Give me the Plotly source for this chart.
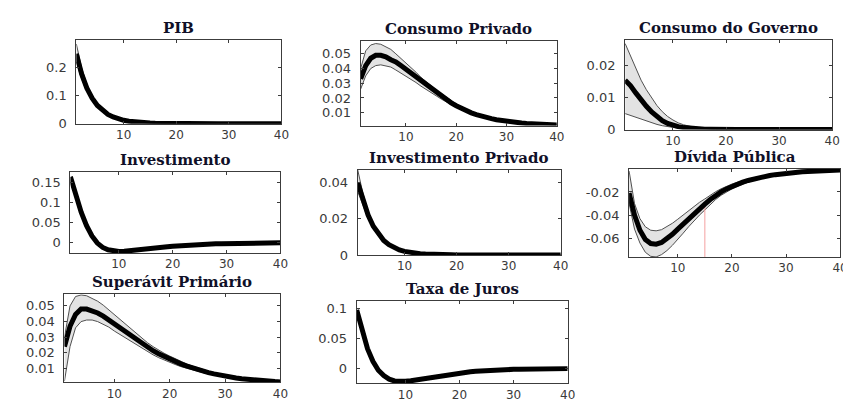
import plotly.graph_objects as go

# ---------------- data ----------------
periods = list(range(1, 41))
x_ticks = [10, 20, 30, 40]
x_ticktext = ["10", "20", "30", "40"]

titles = ["PIB", "Consumo Privado", "Consumo do Governo", "Investimento",
          "Investimento Privado", "Dívida Pública", "Superávit Primário", "Taxa de Juros"]

pib_mean = [0.250, 0.178, 0.127, 0.091, 0.065, 0.046, 0.033, 0.024, 0.017, 0.012, 0.0085, 0.006, 0.0043, 0.0031,
            0.0022, 0.0016, 0.0011, 0.0008, 0.0006, 0.0004, 0.0003, 0.0002, 0.00015, 0.0001, 0.0001, 0.0001, 0.0001,
            0, 0, 0, 0, 0, 0, 0, 0, 0, 0, 0, 0, 0]
pib_upper = [0.285, 0.200, 0.140, 0.098, 0.069, 0.049, 0.035, 0.025, 0.018, 0.013, 0.0092, 0.0065, 0.0047, 0.0034,
             0.0024, 0.0017, 0.0012, 0.0009, 0.0006, 0.0004, 0.0003, 0.0002, 0.00015, 0.0001, 0.0001, 0.0001, 0.0001,
             0, 0, 0, 0, 0, 0, 0, 0, 0, 0, 0, 0, 0]
pib_lower = [0.220, 0.160, 0.116, 0.084, 0.061, 0.043, 0.031, 0.022, 0.016, 0.011, 0.0078, 0.0055, 0.0039, 0.0028,
             0.002, 0.0014, 0.001, 0.0007, 0.0005, 0.0004, 0.0003, 0.0002, 0.00015, 0.0001, 0.0001, 0.0001, 0.0001,
             0, 0, 0, 0, 0, 0, 0, 0, 0, 0, 0, 0, 0]

cp_mean = [0.033, 0.042, 0.047, 0.049, 0.049, 0.048, 0.046, 0.0445, 0.042, 0.0395, 0.037, 0.034, 0.031, 0.0285,
           0.026, 0.0235, 0.021, 0.019, 0.0167, 0.0147, 0.0129, 0.0113, 0.0099, 0.0087, 0.0076, 0.0067, 0.0059,
           0.0052, 0.0046, 0.0041, 0.0036, 0.0032, 0.0029, 0.0026, 0.0024, 0.0022, 0.002, 0.0018, 0.0017, 0.0016]
cp_upper = [0.040, 0.052, 0.056, 0.057, 0.0565, 0.055, 0.053, 0.050, 0.047, 0.044, 0.041, 0.0375, 0.034, 0.031,
            0.028, 0.0255, 0.023, 0.0205, 0.018, 0.016, 0.014, 0.0123, 0.0108, 0.0095, 0.0083, 0.0073, 0.0064,
            0.0056, 0.0049, 0.0044, 0.0039, 0.0034, 0.0031, 0.0028, 0.0025, 0.0023, 0.0021, 0.0019, 0.0018, 0.0017]
cp_lower = [0.026, 0.035, 0.040, 0.042, 0.0425, 0.042, 0.041, 0.039, 0.037, 0.035, 0.033, 0.0305, 0.028, 0.026,
            0.0237, 0.0215, 0.0193, 0.0173, 0.0154, 0.0136, 0.012, 0.0105, 0.0092, 0.0081, 0.0071, 0.0062, 0.0054,
            0.0048, 0.0043, 0.0038, 0.0034, 0.003, 0.0027, 0.0024, 0.0022, 0.002, 0.0018, 0.0017, 0.0016, 0.0015]

cg_mean = [0.0155, 0.0138, 0.0115, 0.0092, 0.0073, 0.0055, 0.004, 0.0028, 0.0019, 0.0013, 0.0009, 0.0006, 0.0004,
           0.0003, 0.0002, 0.0001, 0.0001, 0, 0, 0, 0, 0, 0, 0, 0, 0, 0, 0, 0, 0, 0, 0, 0, 0, 0, 0, 0, 0, 0, 0]
cg_upper = [0.027, 0.023, 0.019, 0.0155, 0.0125, 0.0098, 0.0075, 0.0056, 0.0041, 0.003, 0.0021, 0.0015, 0.001,
            0.0007, 0.0005, 0.0003, 0.0002, 0.0001, 0.0001, 0, 0, 0, 0, 0, 0, 0, 0, 0, 0, 0, 0, 0, 0, 0, 0, 0, 0,
            0, 0, 0]
cg_lower = [0.005, 0.0044, 0.0038, 0.0032, 0.0026, 0.0021, 0.0016, 0.0012, 0.0009, 0.0006, 0.0004, 0.0003, 0.0002,
            0.0001, 0.0001, 0, 0, 0, 0, 0, 0, 0, 0, 0, 0, 0, 0, 0, 0, 0, 0, 0, 0, 0, 0, 0, 0, 0, 0, 0]

inv_mean = [0.165, 0.118, 0.076, 0.042, 0.016, -0.002, -0.013, -0.019, -0.022, -0.023, -0.0225, -0.0215, -0.02,
            -0.0185, -0.017, -0.0155, -0.014, -0.0126, -0.0113, -0.0101, -0.009, -0.008, -0.0071, -0.0063, -0.0056,
            -0.005, -0.0044, -0.0039, -0.0035, -0.0031, -0.0028, -0.0025, -0.0022, -0.002, -0.0018, -0.0016,
            -0.0014, -0.0013, -0.0012, -0.0011]

ip_mean = [0.040, 0.030, 0.022, 0.0158, 0.0113, 0.008, 0.0057, 0.004, 0.0028, 0.002, 0.0014, 0.001, 0.0007, 0.0005,
           0.0003, 0.0002, 0.0002, 0.0001, 0.0001, 0, 0, 0, 0, 0, 0, 0, 0, 0, 0, 0, 0, 0, 0, 0, 0, 0, 0, 0, 0, 0]
ip_upper = [0.047, 0.034, 0.024, 0.017, 0.012, 0.0085, 0.006, 0.0042, 0.003, 0.0021, 0.0015, 0.001, 0.0007, 0.0005,
            0.0003, 0.0002, 0.0002, 0.0001, 0.0001, 0, 0, 0, 0, 0, 0, 0, 0, 0, 0, 0, 0, 0, 0, 0, 0, 0, 0, 0, 0, 0]
ip_lower = [0.035, 0.027, 0.020, 0.0146, 0.0105, 0.0075, 0.0053, 0.0037, 0.0026, 0.0019, 0.0013, 0.0009, 0.0006,
            0.0004, 0.0003, 0.0002, 0.0001, 0.0001, 0, 0, 0, 0, 0, 0, 0, 0, 0, 0, 0, 0, 0, 0, 0, 0, 0, 0, 0, 0, 0, 0]

dp_mean = [-0.021, -0.040, -0.053, -0.061, -0.0645, -0.065, -0.0635, -0.0605, -0.0565, -0.052, -0.0475, -0.043,
           -0.0385, -0.0345, -0.0305, -0.0265, -0.023, -0.020, -0.0174, -0.0152, -0.0133, -0.0116, -0.0101, -0.0088,
           -0.0077, -0.0067, -0.0058, -0.0051, -0.0044, -0.0039, -0.0034, -0.003, -0.0026, -0.0023, -0.002,
           -0.0018, -0.0016, -0.0014, -0.0012, -0.0011]
dp_upper = [-0.002, -0.030, -0.043, -0.050, -0.053, -0.0535, -0.0525, -0.050, -0.047, -0.0435, -0.0398, -0.036,
            -0.0325, -0.029, -0.026, -0.0228, -0.0198, -0.0173, -0.0151, -0.0132, -0.0116, -0.0102, -0.0089,
            -0.0078, -0.0068, -0.006, -0.0052, -0.0046, -0.004, -0.0035, -0.0031, -0.0027, -0.0024, -0.0021,
            -0.0018, -0.0016, -0.0014, -0.0012, -0.0011, -0.001]
dp_lower = [-0.030, -0.052, -0.064, -0.072, -0.0755, -0.076, -0.074, -0.0705, -0.066, -0.061, -0.0555, -0.050,
            -0.0445, -0.040, -0.0355, -0.0308, -0.0265, -0.0229, -0.0199, -0.0174, -0.0152, -0.0132, -0.0115,
            -0.0099, -0.0087, -0.0075, -0.0065, -0.0057, -0.0049, -0.0043, -0.0038, -0.0033, -0.0029, -0.0025,
            -0.0022, -0.002, -0.0018, -0.0016, -0.0014, -0.0012]
dp_marker_x = [15, 15]
dp_marker_y = [-0.076, -0.029]

sp_mean = [0.024, 0.037, 0.0445, 0.048, 0.048, 0.047, 0.0455, 0.0435, 0.041, 0.038, 0.0355, 0.033, 0.0305, 0.028,
           0.0257, 0.0235, 0.0214, 0.0195, 0.0177, 0.016, 0.0145, 0.013, 0.0117, 0.0105, 0.0094, 0.0084, 0.0074,
           0.0066, 0.0058, 0.0051, 0.0045, 0.004, 0.0035, 0.0031, 0.0027, 0.0024, 0.0021, 0.0019, 0.0017, 0.0015]
sp_upper = [0.030, 0.050, 0.056, 0.057, 0.0565, 0.055, 0.053, 0.0505, 0.0475, 0.0445, 0.041, 0.038, 0.035, 0.032,
            0.029, 0.0265, 0.024, 0.0218, 0.0198, 0.018, 0.0162, 0.0146, 0.0131, 0.0117, 0.0105, 0.0093, 0.0083,
            0.0073, 0.0065, 0.0057, 0.005, 0.0044, 0.0039, 0.0034, 0.003, 0.0026, 0.0023, 0.0021, 0.0019, 0.0017]
sp_lower = [0.002, 0.024, 0.036, 0.040, 0.041, 0.041, 0.040, 0.0385, 0.0365, 0.034, 0.0318, 0.0295, 0.0273, 0.025,
            0.0228, 0.0207, 0.0188, 0.017, 0.0154, 0.0139, 0.0126, 0.0113, 0.0102, 0.0092, 0.0082, 0.0074, 0.0066,
            0.0058, 0.0052, 0.0046, 0.004, 0.0035, 0.0031, 0.0027, 0.0024, 0.0021, 0.0019, 0.0017, 0.0015, 0.0013]

tj_mean = [0.098, 0.062, 0.033, 0.012, -0.003, -0.012, -0.018, -0.021, -0.022, -0.0215, -0.0205, -0.019, -0.0175,
           -0.016, -0.0145, -0.013, -0.0115, -0.0101, -0.0088, -0.0076, -0.0065, -0.0055, -0.0047, -0.004, -0.0034,
           -0.0029, -0.0025, -0.0021, -0.0018, -0.0015, -0.0013, -0.0011, -0.0009, -0.0008, -0.0007, -0.0006,
           -0.0005, -0.0004, -0.0004, -0.0003]

pib_yticks = [0, 0.1, 0.2]
pib_yticktext = ["0", "0.1", "0.2"]
cp_yticks = [0.01, 0.02, 0.03, 0.04, 0.05]
cp_yticktext = ["0.01", "0.02", "0.03", "0.04", "0.05"]
cg_yticks = [0, 0.01, 0.02]
cg_yticktext = ["0", "0.01", "0.02"]
inv_yticks = [0, 0.05, 0.1, 0.15]
inv_yticktext = ["0", "0.05", "0.1", "0.15"]
ip_yticks = [0, 0.02, 0.04]
ip_yticktext = ["0", "0.02", "0.04"]
dp_yticks = [-0.06, -0.04, -0.02]
dp_yticktext = ["-0.06", "-0.04", "-0.02"]
sp_yticks = [0.01, 0.02, 0.03, 0.04, 0.05]
sp_yticktext = ["0.01", "0.02", "0.03", "0.04", "0.05"]
tj_yticks = [0, 0.05, 0.1]
tj_yticktext = ["0", "0.05", "0.1"]

# ---------------- layout / style ----------------
W, H = 851, 401
panels = [
    dict(mean=pib_mean, up=pib_upper, lo=pib_lower, yr=[0, 0.298], yt=pib_yticks, ytt=pib_yticktext, box=(69, 276, 33, 118)),
    dict(mean=cp_mean, up=cp_upper, lo=cp_lower, yr=[0.0012, 0.0585], yt=cp_yticks, ytt=cp_yticktext, box=(356, 554, 34, 120)),
    dict(mean=cg_mean, up=cg_upper, lo=cg_lower, yr=[0, 0.028], yt=cg_yticks, ytt=cg_yticktext, box=(623, 832, 33, 124)),
    dict(mean=inv_mean, up=None, lo=None, yr=[-0.027, 0.178], yt=inv_yticks, ytt=inv_yticktext, box=(63, 275, 167, 250)),
    dict(mean=ip_mean, up=ip_upper, lo=ip_lower, yr=[0, 0.047], yt=ip_yticks, ytt=ip_yticktext, box=(353, 558, 165, 252)),
    dict(mean=dp_mean, up=dp_upper, lo=dp_lower, yr=[-0.076, 0], yt=dp_yticks, ytt=dp_yticktext, box=(627, 840, 164, 254)),
    dict(mean=sp_mean, up=sp_upper, lo=sp_lower, yr=[0.0012, 0.0575], yt=sp_yticks, ytt=sp_yticktext, box=(57, 275, 292, 382)),
    dict(mean=tj_mean, up=None, lo=None, yr=[-0.025, 0.113], yt=tj_yticks, ytt=tj_yticktext, box=(352, 565, 299, 383)),
]

fig = go.Figure()
annotations = []
ytickfont = dict(family="DejaVu Sans", size=13, color="#3a3a3a")
xtickfont = dict(family="DejaVu Sans", size=12, color="#3a3a3a")
axis_color = "#3c3c3c"

for i, p in enumerate(panels, start=1):
    xa = "x" if i == 1 else f"x{i}"
    ya = "y" if i == 1 else f"y{i}"
    l, r, t, b = p["box"]
    if p["up"] is not None:
        fig.add_trace(go.Scatter(x=periods, y=p["up"], xaxis=xa, yaxis=ya, mode="lines",
                                 line=dict(color="#505050", width=1), showlegend=False, hoverinfo="skip"))
        fig.add_trace(go.Scatter(x=periods, y=p["lo"], xaxis=xa, yaxis=ya, mode="lines", fill="tonexty",
                                 fillcolor="#e3e3e3", line=dict(color="#505050", width=1),
                                 showlegend=False, hoverinfo="skip"))
    if i == 6:
        fig.add_trace(go.Scatter(x=dp_marker_x, y=dp_marker_y, xaxis=xa, yaxis=ya, mode="lines",
                                 line=dict(color="#f4a0a0", width=1), showlegend=False, hoverinfo="skip"))
    fig.add_trace(go.Scatter(x=periods, y=p["mean"], xaxis=xa, yaxis=ya, mode="lines",
                             line=dict(color="black", width=5), showlegend=False))

    xkey = "xaxis" if i == 1 else f"xaxis{i}"
    ykey = "yaxis" if i == 1 else f"yaxis{i}"
    fig.layout[xkey] = dict(domain=[l / W, r / W], anchor=ya, range=[1, 40],
                            tickvals=x_ticks, ticktext=x_ticktext, ticks="inside", ticklen=3,
                            tickcolor=axis_color, showline=True, linecolor=axis_color, linewidth=1,
                            mirror="ticks", showgrid=False, zeroline=False, tickfont=xtickfont,
                            ticklabelstandoff=0)
    fig.layout[ykey] = dict(domain=[1 - b / H, 1 - t / H], anchor=xa, range=p["yr"],
                            tickvals=p["yt"], ticktext=p["ytt"], ticks="inside", ticklen=3,
                            tickcolor=axis_color, showline=True, linecolor=axis_color, linewidth=1,
                            mirror="ticks", showgrid=False, zeroline=False, tickfont=ytickfont,
                            ticklabelstandoff=6)
    annotations.append(dict(text=f"<b>{titles[i - 1]}</b>", x=(l + r) / 2 / W, y=1 - (t - 1) / H,
                            xref="paper", yref="paper", xanchor="center", yanchor="bottom",
                            showarrow=False, font=dict(family="DejaVu Serif", size=15, color="#101028")))

fig.update_layout(width=W, height=H, margin=dict(l=0, r=0, t=0, b=0),
                  paper_bgcolor="white", plot_bgcolor="white", annotations=annotations,
                  showlegend=False)

fig.write_html("out.html")
